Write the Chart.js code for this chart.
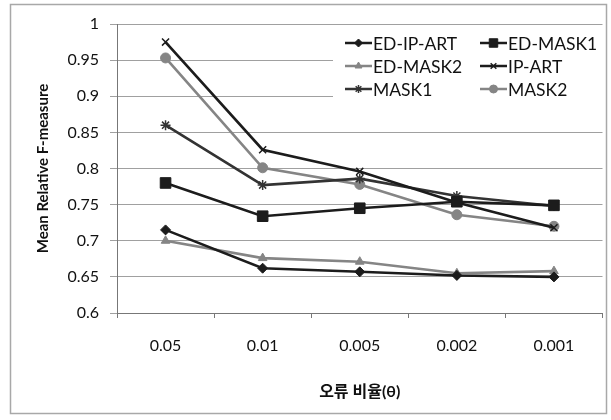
<!DOCTYPE html>
<html>
<head>
<meta charset="utf-8">
<script src="https://cdn.jsdelivr.net/npm/chart.js@4/dist/chart.umd.min.js"></script>
<style>
  html, body { margin: 0; padding: 0; background: #fff; }
  #wrap { width: 611px; height: 420px; }
</style>
</head>
<body>
<div id="wrap"><canvas id="chart"></canvas></div>
<script>
// error rates on the x axis
const categories = ['0.05', '0.01', '0.005', '0.002', '0.001'];

// mean relative F-measure
const edIpArt = [0.715, 0.662, 0.657, 0.652, 0.650];
const edMask1 = [0.780, 0.734, 0.745, 0.754, 0.749];
const edMask2 = [0.700, 0.676, 0.671, 0.655, 0.658];
const ipArt = [0.975, 0.826, 0.796, 0.753, 0.718];
const mask1 = [0.860, 0.777, 0.786, 0.762, 0.748];
const mask2 = [0.953, 0.801, 0.778, 0.736, 0.720];

const yTicks = [0.6, 0.65, 0.7, 0.75, 0.8, 0.85, 0.9, 0.95, 1];

const FONT = "Lato, 'Noto Sans CJK KR', sans-serif";
const BLACK = '#1c1c1c';
const GREY = '#858585';

function series(label, data, color, style, radius) {
    return {
        label: label,
        data: data,
        borderColor: color,
        backgroundColor: color,
        borderWidth: 2.6,
        pointStyle: style,
        pointRadius: radius,
        pointBorderWidth: style === 'crossRot' || style === 'star' ? 1.5 : 1,
        tension: 0
    };
}

const datasets = [
    series('ED-IP-ART', edIpArt, BLACK, 'rectRot', 5),
    series('ED-MASK1', edMask1, BLACK, 'rect', 7.5),
    series('ED-MASK2', edMask2, GREY, 'triangle', 5),
    series('IP-ART', ipArt, BLACK, 'crossRot', 5),
    series('MASK1', mask1, '#333333', 'star', 5),
    series('MASK2', mask2, GREY, 'circle', 5)
];

// grey frame round the whole figure
const framePlugin = {
    id: 'frame',
    beforeDraw(chart) {
        const ctx = chart.ctx;
        ctx.save();
        ctx.strokeStyle = '#a8a8a8';
        ctx.lineWidth = 1.5;
        ctx.strokeRect(10.5, 4.5, 596, 409);
        ctx.restore();
    }
};

// legend sits inside the plot, on a white patch that hides the grid
const legendBox = { x: 333, y: 28, w: 270, h: 74 };
const insideLegend = {
    id: 'insideLegend',
    beforeDatasetsDraw(chart) {
        const ctx = chart.ctx;
        ctx.save();
        ctx.fillStyle = '#fff';
        ctx.fillRect(legendBox.x, legendBox.y, legendBox.w, legendBox.h);
        ctx.restore();
    },
    afterDraw(chart) {
        const ctx = chart.ctx;
        const cols = [345, 480];
        const rows = [43, 66, 89];
        ctx.save();
        ctx.font = '17.5px ' + FONT;
        ctx.textBaseline = 'middle';
        chart.data.datasets.forEach((ds, i) => {
            const x = cols[i % 2];
            const y = rows[Math.floor(i / 2)];
            ctx.strokeStyle = ds.borderColor;
            ctx.lineWidth = 2.5;
            ctx.beginPath();
            ctx.moveTo(x, y);
            ctx.lineTo(x + 27, y);
            ctx.stroke();
            ctx.fillStyle = ds.backgroundColor;
            ctx.lineWidth = ds.pointBorderWidth;
            Chart.helpers.drawPoint(ctx, {
                pointStyle: ds.pointStyle,
                radius: ds.pointRadius * 0.8,
                rotation: 0,
                borderWidth: ds.pointBorderWidth
            }, x + 13.5, y);
            ctx.fillStyle = '#111';
            ctx.fillText(ds.label, x + 28, y + 1);
        });
        ctx.restore();
    }
};

new Chart(document.getElementById('chart'), {
    type: 'line',
    data: { labels: categories, datasets: datasets },
    options: {
        responsive: true,
        maintainAspectRatio: false,
        animation: false,
        layout: { padding: { left: 12, top: 24, right: 8, bottom: 8 } },
        plugins: {
            legend: { display: false },
            tooltip: { enabled: false }
        },
        scales: {
            x: {
                offset: true,
                afterFit(scale) { scale.height = 99; },
                grid: {
                    offset: true,
                    drawOnChartArea: false,
                    drawTicks: true,
                    tickLength: 5,
                    color: '#777'
                },
                border: { color: '#777', width: 1 },
                ticks: {
                    color: '#111',
                    padding: 18,
                    font: { family: FONT, size: 16 }
                },
                title: {
                    display: true,
                    text: '오류 비율(θ)',
                    color: '#111',
                    padding: { top: 0, bottom: 11 },
                    font: { family: FONT, size: 16, weight: 'bold' }
                }
            },
            y: {
                min: 0.6,
                max: 1,
                afterFit(scale) { scale.width = 105; },
                afterBuildTicks(scale) {
                    scale.ticks = yTicks.map(v => ({ value: v }));
                },
                grid: {
                    color: '#a0a0a0',
                    tickLength: 7,
                    lineWidth: 1
                },
                border: { color: '#777', width: 1 },
                ticks: {
                    color: '#111',
                    padding: 11,
                    font: { family: FONT, size: 16 },
                    callback: v => String(+v.toFixed(2))
                },
                title: {
                    display: true,
                    text: 'Mean Relative F-measure',
                    color: '#111',
                    padding: { top: 22, bottom: 0 },
                    font: { family: FONT, size: 15, weight: 'bold' }
                }
            }
        }
    },
    plugins: [framePlugin, insideLegend]
});
</script>
</body>
</html>
